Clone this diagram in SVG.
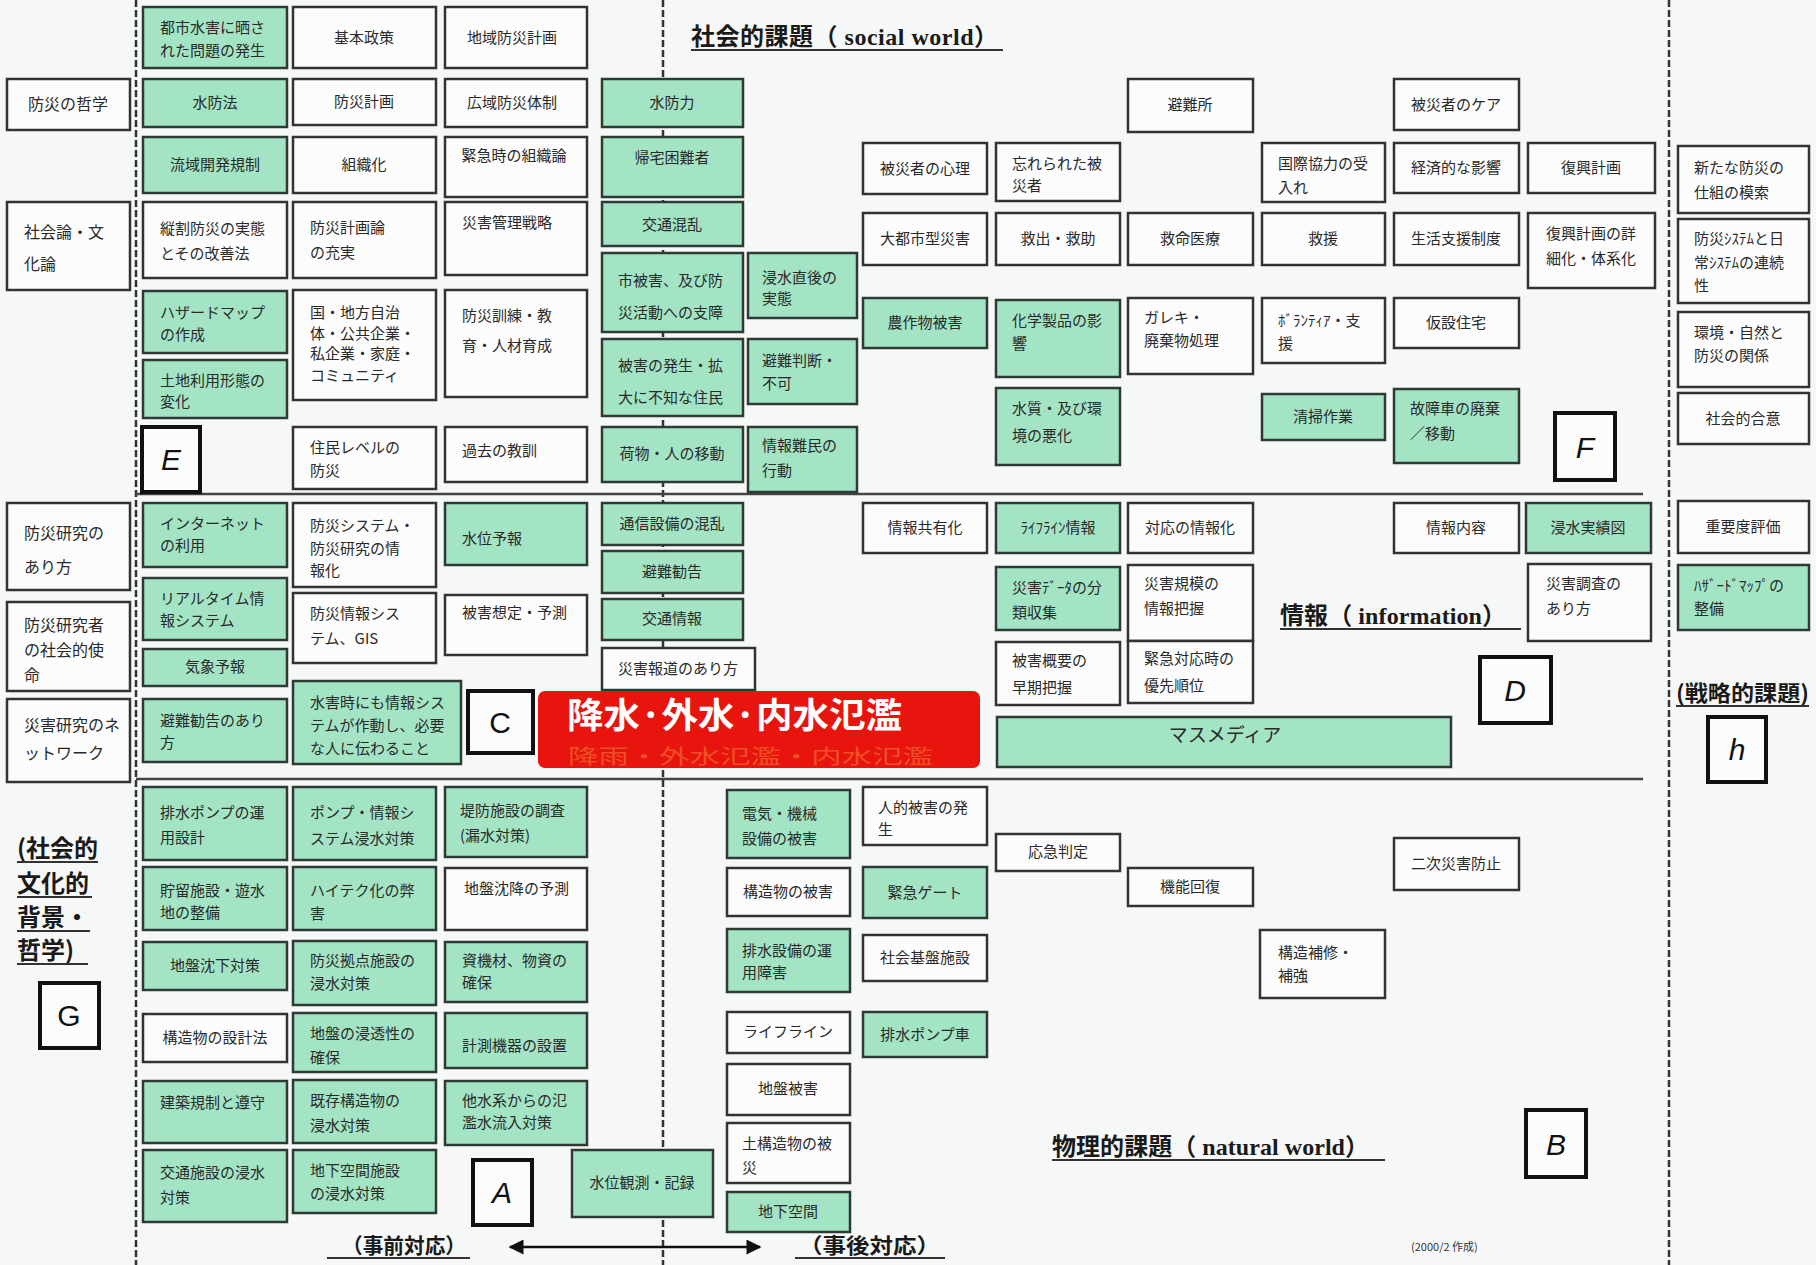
<svg xmlns="http://www.w3.org/2000/svg" width="1816" height="1265" viewBox="0 0 1816 1265">
<defs>
<style>
.g{fill:#a3e4c5;stroke:#2e3a33;stroke-width:2.5}
.w{fill:#fbfcfb;stroke:#333;stroke-width:2.5}
.lb{fill:#fbfcfb;stroke:#111;stroke-width:4}
.t{font-family:"Noto Sans CJK JP","Noto Sans CJK SC",sans-serif;font-size:15px;fill:#2a2a2a}
.c{text-anchor:middle}
.L{font-family:"Liberation Sans",sans-serif;font-size:30px;fill:#111;text-anchor:middle}
.i{font-style:italic}
.tt{font-family:"Liberation Serif","Noto Sans CJK JP",serif;font-size:24px;font-weight:bold;fill:#1a1a1a}
.ul{stroke:#333;stroke-width:1.8}
.dash{stroke:#333;stroke-width:2.5;stroke-dasharray:7 3;fill:none}
.hl{stroke:#444;stroke-width:2.5}
</style>
<marker id="ah" viewBox="0 0 10 10" refX="9" refY="5" markerWidth="7" markerHeight="6" orient="auto-start-reverse"><path d="M0,0L10,5L0,10z" fill="#111"/></marker>
</defs>
<rect width="1816" height="1265" fill="#f6f8f7"/>

<g id="connectors">
<line class="dash" x1="136" y1="0" x2="136" y2="1265"/>
<line class="dash" x1="663" y1="0" x2="663" y2="1265"/>
<line class="dash" x1="1669" y1="0" x2="1669" y2="1265"/>
<line class="hl" x1="136" y1="494" x2="1643" y2="494"/>
<line class="hl" x1="136" y1="779" x2="1643" y2="779"/>
<line x1="510" y1="1247" x2="760" y2="1247" stroke="#111" stroke-width="2.5" marker-start="url(#ah)" marker-end="url(#ah)"/>
</g>

<!-- left column -->
<g id="l1"><rect class="w" x="7" y="79" width="123" height="51"/><text class="t c" x="68" y="110" style="font-size:16px">防災の哲学</text></g>
<g id="l2"><rect class="w" x="7" y="202" width="123" height="88"/><text class="t" x="24" y="238" style="font-size:16px">社会論・文<tspan x="24" y="270">化論</tspan></text></g>
<g id="l3"><rect class="w" x="7" y="503" width="123" height="87"/><text class="t" x="24" y="539" style="font-size:16px">防災研究の<tspan x="24" y="573">あり方</tspan></text></g>
<g id="l4"><rect class="w" x="7" y="602" width="123" height="89"/><text class="t" x="24" y="631" style="font-size:16px">防災研究者<tspan x="24" y="656">の社会的使</tspan><tspan x="24" y="681">命</tspan></text></g>
<g id="l5"><rect class="w" x="7" y="699" width="123" height="83"/><text class="t" x="24" y="731" style="font-size:16px">災害研究のネ<tspan x="24" y="759">ットワーク</tspan></text></g>

<!-- column 1 -->
<g id="c1a"><rect class="g" x="143" y="7" width="144" height="61"/><text class="t" x="160" y="33">都市水害に晒さ<tspan x="160" y="56">れた問題の発生</tspan></text></g>
<g id="c1b"><rect class="g" x="143" y="79" width="144" height="48"/><text class="t c" x="215" y="108">水防法</text></g>
<g id="c1c"><rect class="g" x="143" y="137" width="144" height="56"/><text class="t c" x="215" y="170">流域開発規制</text></g>
<g id="c1d"><rect class="w" x="143" y="202" width="144" height="76"/><text class="t" x="160" y="234">縦割防災の実態<tspan x="160" y="259">とその改善法</tspan></text></g>
<g id="c1e"><rect class="g" x="143" y="291" width="144" height="62"/><text class="t" x="160" y="318">ハザードマップ<tspan x="160" y="340">の作成</tspan></text></g>
<g id="c1f"><rect class="g" x="143" y="360" width="144" height="58"/><text class="t" x="160" y="386">土地利用形態の<tspan x="160" y="407">変化</tspan></text></g>
<g id="c1g"><rect class="g" x="143" y="503" width="144" height="64"/><text class="t" x="160" y="529">インターネット<tspan x="160" y="551">の利用</tspan></text></g>
<g id="c1h"><rect class="g" x="143" y="578" width="144" height="62"/><text class="t" x="160" y="604">リアルタイム情<tspan x="160" y="626">報システム</tspan></text></g>
<g id="c1i"><rect class="g" x="143" y="649" width="144" height="37"/><text class="t c" x="215" y="672">気象予報</text></g>
<g id="c1j"><rect class="g" x="143" y="699" width="144" height="63"/><text class="t" x="160" y="726">避難勧告のあり<tspan x="160" y="748">方</tspan></text></g>
<g id="c1k"><rect class="g" x="143" y="787" width="144" height="73"/><text class="t" x="160" y="818">排水ポンプの運<tspan x="160" y="843">用設計</tspan></text></g>
<g id="c1l"><rect class="g" x="143" y="867" width="144" height="63"/><text class="t" x="160" y="896">貯留施設・遊水<tspan x="160" y="918">地の整備</tspan></text></g>
<g id="c1m"><rect class="g" x="143" y="942" width="144" height="48"/><text class="t c" x="215" y="971">地盤沈下対策</text></g>
<g id="c1n"><rect class="w" x="143" y="1014" width="144" height="48"/><text class="t c" x="215" y="1043">構造物の設計法</text></g>
<g id="c1o"><rect class="g" x="143" y="1081" width="144" height="62"/><text class="t" x="160" y="1108">建築規制と遵守</text></g>
<g id="c1p"><rect class="g" x="143" y="1150" width="144" height="72"/><text class="t" x="160" y="1178">交通施設の浸水<tspan x="160" y="1203">対策</tspan></text></g>

<!-- column 2 -->
<g id="c2a"><rect class="w" x="293" y="7" width="143" height="61"/><text class="t c" x="364" y="43">基本政策</text></g>
<g id="c2b"><rect class="w" x="293" y="79" width="143" height="46"/><text class="t c" x="364" y="107">防災計画</text></g>
<g id="c2c"><rect class="w" x="293" y="137" width="143" height="56"/><text class="t c" x="364" y="170">組織化</text></g>
<g id="c2d"><rect class="w" x="293" y="202" width="143" height="76"/><text class="t" x="310" y="233">防災計画論<tspan x="310" y="258">の充実</tspan></text></g>
<g id="c2e"><rect class="w" x="293" y="290" width="143" height="110"/><text class="t" x="310" y="318">国・地方自治<tspan x="310" y="339">体・公共企業・</tspan><tspan x="310" y="359">私企業・家庭・</tspan><tspan x="310" y="381">コミュニティ</tspan></text></g>
<g id="c2f"><rect class="w" x="293" y="427" width="143" height="62"/><text class="t" x="310" y="453">住民レベルの<tspan x="310" y="476">防災</tspan></text></g>
<g id="c2g"><rect class="w" x="293" y="503" width="143" height="84"/><text class="t" x="310" y="531">防災システム・<tspan x="310" y="554">防災研究の情</tspan><tspan x="310" y="576">報化</tspan></text></g>
<g id="c2h"><rect class="w" x="293" y="593" width="143" height="70"/><text class="t" x="310" y="619">防災情報シス<tspan x="310" y="644">テム、GIS</tspan></text></g>
<g id="c2i"><rect class="g" x="293" y="681" width="168" height="83"/><text class="t" x="310" y="708">水害時にも情報シス<tspan x="310" y="731">テムが作動し、必要</tspan><tspan x="310" y="754">な人に伝わること</tspan></text></g>
<g id="c2j"><rect class="g" x="293" y="787" width="143" height="73"/><text class="t" x="310" y="818">ポンプ・情報シ<tspan x="310" y="844">ステム浸水対策</tspan></text></g>
<g id="c2k"><rect class="g" x="293" y="867" width="143" height="63"/><text class="t" x="310" y="896">ハイテク化の弊<tspan x="310" y="919">害</tspan></text></g>
<g id="c2l"><rect class="g" x="293" y="941" width="143" height="64"/><text class="t" x="310" y="966">防災拠点施設の<tspan x="310" y="989">浸水対策</tspan></text></g>
<g id="c2m"><rect class="g" x="293" y="1013" width="143" height="59"/><text class="t" x="310" y="1039">地盤の浸透性の<tspan x="310" y="1063">確保</tspan></text></g>
<g id="c2n"><rect class="g" x="293" y="1080" width="143" height="63"/><text class="t" x="310" y="1106">既存構造物の<tspan x="310" y="1131">浸水対策</tspan></text></g>
<g id="c2o"><rect class="g" x="293" y="1150" width="143" height="63"/><text class="t" x="310" y="1176">地下空間施設<tspan x="310" y="1199">の浸水対策</tspan></text></g>

<!-- column 3 -->
<g id="c3a"><rect class="w" x="445" y="7" width="142" height="61"/><text class="t c" x="512" y="43">地域防災計画</text></g>
<g id="c3b"><rect class="w" x="445" y="79" width="142" height="48"/><text class="t c" x="512" y="108">広域防災体制</text></g>
<g id="c3c"><rect class="w" x="445" y="137" width="142" height="60"/><text class="t c" x="514" y="161">緊急時の組織論</text></g>
<g id="c3d"><rect class="w" x="445" y="202" width="142" height="73"/><text class="t" x="462" y="228">災害管理戦略</text></g>
<g id="c3e"><rect class="w" x="445" y="290" width="142" height="107"/><text class="t" x="462" y="321">防災訓練・教<tspan x="462" y="351">育・人材育成</tspan></text></g>
<g id="c3f"><rect class="w" x="445" y="427" width="142" height="55"/><text class="t" x="462" y="456">過去の教訓</text></g>
<g id="c3g"><rect class="g" x="445" y="503" width="142" height="62"/><text class="t" x="462" y="544">水位予報</text></g>
<g id="c3h"><rect class="w" x="445" y="595" width="142" height="60"/><text class="t" x="462" y="618">被害想定・予測</text></g>
<g id="c3i"><rect class="g" x="445" y="787" width="142" height="70"/><text class="t" x="460" y="816">堤防施設の調査<tspan x="460" y="841">(漏水対策)</tspan></text></g>
<g id="c3j"><rect class="w" x="445" y="868" width="142" height="62"/><text class="t" x="464" y="894">地盤沈降の予測</text></g>
<g id="c3k"><rect class="g" x="445" y="942" width="142" height="60"/><text class="t" x="462" y="966">資機材、物資の<tspan x="462" y="988">確保</tspan></text></g>
<g id="c3l"><rect class="g" x="445" y="1013" width="142" height="55"/><text class="t" x="462" y="1051">計測機器の設置</text></g>
<g id="c3m"><rect class="g" x="445" y="1081" width="142" height="64"/><text class="t" x="462" y="1106">他水系からの氾<tspan x="462" y="1128">濫水流入対策</tspan></text></g>

<!-- column 4 -->
<g id="c4a"><rect class="g" x="602" y="79" width="141" height="48"/><text class="t c" x="672" y="108">水防力</text></g>
<g id="c4b"><rect class="g" x="602" y="137" width="141" height="60"/><text class="t c" x="672" y="163">帰宅困難者</text></g>
<g id="c4c"><rect class="g" x="602" y="202" width="141" height="44"/><text class="t c" x="672" y="230">交通混乱</text></g>
<g id="c4d"><rect class="g" x="602" y="253" width="141" height="79"/><text class="t" x="618" y="286">市被害、及び防<tspan x="618" y="318">災活動への支障</tspan></text></g>
<g id="c4e"><rect class="g" x="602" y="339" width="141" height="77"/><text class="t" x="618" y="371">被害の発生・拡<tspan x="618" y="403">大に不知な住民</tspan></text></g>
<g id="c4f"><rect class="g" x="602" y="427" width="141" height="55"/><text class="t c" x="672" y="459">荷物・人の移動</text></g>
<g id="c4g"><rect class="g" x="602" y="503" width="141" height="42"/><text class="t c" x="672" y="529">通信設備の混乱</text></g>
<g id="c4h"><rect class="g" x="602" y="551" width="141" height="42"/><text class="t c" x="672" y="577">避難勧告</text></g>
<g id="c4i"><rect class="g" x="602" y="599" width="141" height="41"/><text class="t c" x="672" y="624">交通情報</text></g>
<g id="c4j"><rect class="w" x="602" y="648" width="153" height="42"/><text class="t c" x="678" y="674">災害報道のあり方</text></g>
<g id="c4k"><rect class="g" x="572" y="1150" width="141" height="67"/><text class="t c" x="642" y="1188">水位観測・記録</text></g>

<!-- column 5 -->
<g id="c5a"><rect class="g" x="748" y="253" width="109" height="65"/><text class="t" x="762" y="283">浸水直後の<tspan x="762" y="304">実態</tspan></text></g>
<g id="c5b"><rect class="g" x="748" y="339" width="109" height="65"/><text class="t" x="762" y="366">避難判断・<tspan x="762" y="389">不可</tspan></text></g>
<g id="c5c"><rect class="g" x="748" y="427" width="109" height="65"/><text class="t" x="762" y="451">情報難民の<tspan x="762" y="476">行動</tspan></text></g>

<!-- lower middle column -->
<g id="m1"><rect class="g" x="727" y="790" width="123" height="68"/><text class="t" x="742" y="819">電気・機械<tspan x="742" y="844">設備の被害</tspan></text></g>
<g id="m2"><rect class="w" x="727" y="868" width="123" height="48"/><text class="t c" x="788" y="897">構造物の被害</text></g>
<g id="m3"><rect class="g" x="727" y="929" width="123" height="63"/><text class="t" x="742" y="956">排水設備の運<tspan x="742" y="978">用障害</tspan></text></g>
<g id="m4"><rect class="w" x="727" y="1012" width="123" height="41"/><text class="t c" x="788" y="1037">ライフライン</text></g>
<g id="m5"><rect class="w" x="727" y="1064" width="123" height="51"/><text class="t c" x="788" y="1094">地盤被害</text></g>
<g id="m6"><rect class="w" x="727" y="1123" width="123" height="60"/><text class="t" x="742" y="1149">土構造物の被<tspan x="742" y="1173">災</tspan></text></g>
<g id="m7"><rect class="g" x="727" y="1192" width="123" height="40"/><text class="t c" x="788" y="1217">地下空間</text></g>

<!-- column 6 -->
<g id="c6a"><rect class="w" x="863" y="143" width="124" height="51"/><text class="t c" x="925" y="174">被災者の心理</text></g>
<g id="c6b"><rect class="w" x="863" y="213" width="124" height="52"/><text class="t c" x="925" y="244">大都市型災害</text></g>
<g id="c6c"><rect class="g" x="863" y="298" width="124" height="50"/><text class="t c" x="925" y="328">農作物被害</text></g>
<g id="c6d"><rect class="w" x="863" y="503" width="124" height="50"/><text class="t c" x="925" y="533">情報共有化</text></g>
<g id="c6e"><rect class="w" x="863" y="787" width="124" height="58"/><text class="t" x="878" y="813">人的被害の発<tspan x="878" y="835">生</tspan></text></g>
<g id="c6f"><rect class="g" x="863" y="867" width="124" height="51"/><text class="t c" x="925" y="898">緊急ゲート</text></g>
<g id="c6g"><rect class="w" x="863" y="935" width="124" height="46"/><text class="t c" x="925" y="963">社会基盤施設</text></g>
<g id="c6h"><rect class="g" x="863" y="1012" width="124" height="45"/><text class="t c" x="925" y="1040">排水ポンプ車</text></g>

<!-- column 7 -->
<g id="c7a"><rect class="w" x="996" y="143" width="124" height="58"/><text class="t" x="1012" y="169">忘れられた被<tspan x="1012" y="191">災者</tspan></text></g>
<g id="c7b"><rect class="w" x="996" y="213" width="124" height="52"/><text class="t c" x="1058" y="244">救出・救助</text></g>
<g id="c7c"><rect class="g" x="996" y="300" width="124" height="77"/><text class="t" x="1012" y="326">化学製品の影<tspan x="1012" y="349">響</tspan></text></g>
<g id="c7d"><rect class="g" x="996" y="388" width="124" height="77"/><text class="t" x="1012" y="414">水質・及び環<tspan x="1012" y="441">境の悪化</tspan></text></g>
<g id="c7e"><rect class="g" x="996" y="503" width="124" height="50"/><text class="t c" x="1058" y="533">ﾗｲﾌﾗｲﾝ情報</text></g>
<g id="c7f"><rect class="g" x="996" y="567" width="124" height="63"/><text class="t" x="1012" y="593">災害ﾃﾞｰﾀの分<tspan x="1012" y="618">類収集</tspan></text></g>
<g id="c7g"><rect class="w" x="996" y="642" width="124" height="63"/><text class="t" x="1012" y="666">被害概要の<tspan x="1012" y="693">早期把握</tspan></text></g>
<g id="c7h"><rect class="w" x="996" y="834" width="124" height="37"/><text class="t c" x="1058" y="857">応急判定</text></g>

<!-- column 8 -->
<g id="c8a"><rect class="w" x="1128" y="79" width="125" height="53"/><text class="t c" x="1190" y="110">避難所</text></g>
<g id="c8b"><rect class="w" x="1128" y="213" width="125" height="52"/><text class="t c" x="1190" y="244">救命医療</text></g>
<g id="c8c"><rect class="w" x="1128" y="298" width="125" height="76"/><text class="t" x="1144" y="323">ガレキ・<tspan x="1144" y="346">廃棄物処理</tspan></text></g>
<g id="c8d"><rect class="w" x="1128" y="503" width="125" height="50"/><text class="t c" x="1190" y="533">対応の情報化</text></g>
<g id="c8e"><rect class="w" x="1128" y="565" width="125" height="76"/><text class="t" x="1144" y="589">災害規模の<tspan x="1144" y="614">情報把握</tspan></text></g>
<g id="c8f"><rect class="w" x="1128" y="641" width="125" height="62"/><text class="t" x="1144" y="664">緊急対応時の<tspan x="1144" y="691">優先順位</tspan></text></g>
<g id="c8g"><rect class="w" x="1128" y="868" width="125" height="38"/><text class="t c" x="1190" y="892">機能回復</text></g>

<!-- column 9 -->
<g id="c9a"><rect class="w" x="1262" y="143" width="123" height="59"/><text class="t" x="1278" y="169">国際協力の受<tspan x="1278" y="193">入れ</tspan></text></g>
<g id="c9b"><rect class="w" x="1262" y="213" width="123" height="52"/><text class="t c" x="1323" y="244">救援</text></g>
<g id="c9c"><rect class="w" x="1262" y="298" width="123" height="65"/><text class="t" x="1278" y="326">ﾎﾞﾗﾝﾃｨｱ・支<tspan x="1278" y="349">援</tspan></text></g>
<g id="c9d"><rect class="g" x="1262" y="394" width="123" height="46"/><text class="t c" x="1323" y="422">清掃作業</text></g>
<g id="c9e"><rect class="w" x="1260" y="930" width="125" height="68"/><text class="t" x="1278" y="958">構造補修・<tspan x="1278" y="981">補強</tspan></text></g>

<!-- column 10 -->
<g id="c10a"><rect class="w" x="1394" y="79" width="125" height="51"/><text class="t c" x="1456" y="110">被災者のケア</text></g>
<g id="c10b"><rect class="w" x="1394" y="143" width="125" height="50"/><text class="t c" x="1456" y="173">経済的な影響</text></g>
<g id="c10c"><rect class="w" x="1394" y="213" width="125" height="52"/><text class="t c" x="1456" y="244">生活支援制度</text></g>
<g id="c10d"><rect class="w" x="1394" y="298" width="125" height="50"/><text class="t c" x="1456" y="328">仮設住宅</text></g>
<g id="c10e"><rect class="g" x="1394" y="389" width="125" height="74"/><text class="t" x="1410" y="414">故障車の廃棄<tspan x="1410" y="439">／移動</tspan></text></g>
<g id="c10f"><rect class="w" x="1394" y="503" width="125" height="50"/><text class="t c" x="1456" y="533">情報内容</text></g>
<g id="c10g"><rect class="w" x="1394" y="838" width="125" height="52"/><text class="t c" x="1456" y="869">二次災害防止</text></g>

<!-- column 11 -->
<g id="c11a"><rect class="w" x="1528" y="143" width="127" height="50"/><text class="t c" x="1591" y="173">復興計画</text></g>
<g id="c11b"><rect class="w" x="1528" y="213" width="127" height="75"/><text class="t" x="1546" y="239">復興計画の詳<tspan x="1546" y="264">細化・体系化</tspan></text></g>
<g id="c11c"><rect class="g" x="1526" y="503" width="125" height="50"/><text class="t c" x="1588" y="533">浸水実績図</text></g>
<g id="c11d"><rect class="w" x="1528" y="564" width="123" height="77"/><text class="t" x="1546" y="589">災害調査の<tspan x="1546" y="614">あり方</tspan></text></g>

<!-- right column -->
<g id="r1"><rect class="w" x="1678" y="146" width="131" height="67"/><text class="t" x="1694" y="173">新たな防災の<tspan x="1694" y="198">仕組の模索</tspan></text></g>
<g id="r2"><rect class="w" x="1678" y="219" width="131" height="84"/><text class="t" x="1694" y="244">防災ｼｽﾃﾑと日<tspan x="1694" y="268">常ｼｽﾃﾑの連続</tspan><tspan x="1694" y="291">性</tspan></text></g>
<g id="r3"><rect class="w" x="1678" y="312" width="131" height="75"/><text class="t" x="1694" y="338">環境・自然と<tspan x="1694" y="361">防災の関係</tspan></text></g>
<g id="r4"><rect class="w" x="1678" y="393" width="131" height="51"/><text class="t c" x="1743" y="424">社会的合意</text></g>
<g id="r5"><rect class="w" x="1678" y="501" width="131" height="52"/><text class="t c" x="1743" y="532">重要度評価</text></g>
<g id="r6"><rect class="g" x="1678" y="565" width="131" height="65"/><text class="t" x="1694" y="591">ﾊｻﾞｰﾄﾞﾏｯﾌﾟの<tspan x="1694" y="614">整備</tspan></text></g>

<!-- mass media and flood banner -->
<g id="media"><rect class="g" x="997" y="717" width="454" height="50"/><text class="t c" x="1225" y="742" style="font-size:19px">マスメディア</text></g>
<g id="flood"><rect x="538" y="691" width="442" height="77" rx="7" fill="#e7150e"/>
<text x="568" y="764" textLength="365" lengthAdjust="spacingAndGlyphs" style="font-family:'Noto Sans CJK JP',sans-serif;font-size:20px;fill:#f5893a;opacity:0.5">降雨・外水氾濫・内水氾濫</text>
<text x="567" y="728" textLength="335" lengthAdjust="spacingAndGlyphs" style="font-family:'Noto Sans CJK JP',sans-serif;font-size:35px;font-weight:bold;fill:#ffffff">降水·外水·内水氾濫</text></g>

<!-- letter boxes -->
<g id="boxE"><rect class="lb" x="142" y="427" width="58" height="65"/><text class="L i" x="171" y="470">E</text></g>
<g id="boxC"><rect class="lb" x="468" y="691" width="65" height="62"/><text class="L" x="500" y="733">C</text></g>
<g id="boxA"><rect class="lb" x="473" y="1160" width="59" height="65"/><text class="L i" x="502" y="1203">A</text></g>
<g id="boxF"><rect class="lb" x="1555" y="413" width="60" height="67"/><text class="L i" x="1585" y="458">F</text></g>
<g id="boxD"><rect class="lb" x="1480" y="657" width="71" height="66"/><text class="L i" x="1515" y="701">D</text></g>
<g id="boxB"><rect class="lb" x="1526" y="1110" width="60" height="67"/><text class="L i" x="1556" y="1155">B</text></g>
<g id="boxG"><rect class="lb" x="40" y="983" width="59" height="65"/><text class="L" x="69" y="1026">G</text></g>
<g id="boxH"><rect class="lb" x="1708" y="717" width="58" height="65"/><text class="L i" x="1737" y="760">h</text></g>

<!-- titles -->
<g id="titles">
<text class="tt" x="691" y="45" textLength="307">社会的課題（ social world）</text>
<line class="ul" x1="691" y1="50" x2="1003" y2="50"/>
<text class="tt" x="1280" y="624" textLength="226">情報（ information）</text>
<line class="ul" x1="1280" y1="629" x2="1521" y2="629"/>
<text class="tt" x="1052" y="1155" textLength="317">物理的課題（ natural world）</text>
<line class="ul" x1="1052" y1="1160" x2="1385" y2="1160"/>
<text x="1676" y="701" textLength="133" lengthAdjust="spacingAndGlyphs" style="font-family:'Noto Sans CJK JP',sans-serif;font-size:22px;font-weight:bold;fill:#1a1a1a">(戦略的課題)</text>
<line class="ul" x1="1676" y1="706" x2="1809" y2="706"/>
<g style="font-family:'Noto Sans CJK JP',sans-serif;font-size:24px;font-weight:bold;fill:#1a1a1a">
<text x="17" y="857">(社会的</text>
<text x="17" y="892">文化的</text>
<text x="17" y="926">背景・</text>
<text x="17" y="959">哲学)</text>
</g>
<line class="ul" x1="17" y1="862" x2="98" y2="862"/>
<line class="ul" x1="17" y1="897" x2="92" y2="897"/>
<line class="ul" x1="17" y1="931" x2="90" y2="931"/>
<line class="ul" x1="17" y1="964" x2="88" y2="964"/>
<text x="342" y="1253" textLength="124" lengthAdjust="spacingAndGlyphs" style="font-family:'Noto Sans CJK JP',sans-serif;font-size:21px;font-weight:bold;fill:#1a1a1a">（事前対応）</text>
<line class="ul" x1="327" y1="1258" x2="470" y2="1258"/>
<text x="799" y="1253" textLength="141" lengthAdjust="spacingAndGlyphs" style="font-family:'Noto Sans CJK JP',sans-serif;font-size:21px;font-weight:bold;fill:#1a1a1a">（事後対応）</text>
<line class="ul" x1="795" y1="1258" x2="945" y2="1258"/>
<text x="1411" y="1251" style="font-family:'Noto Sans CJK JP',sans-serif;font-size:11px;fill:#333">(2000/2 作成)</text>
</g>
</svg>
